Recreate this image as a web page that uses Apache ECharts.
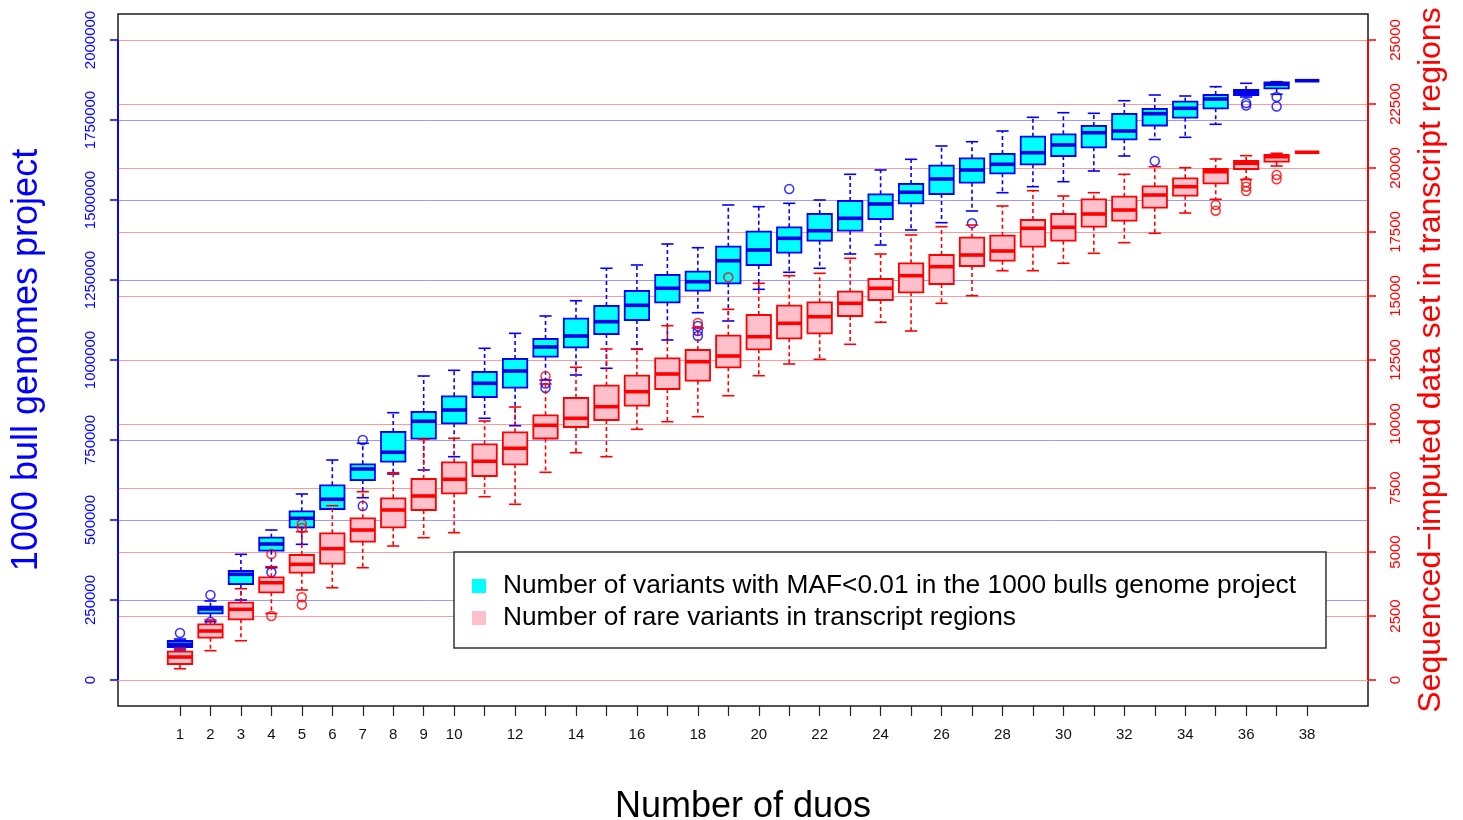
<!DOCTYPE html>
<html><head><meta charset="utf-8">
<script src="https://cdn.jsdelivr.net/npm/echarts@6/dist/echarts.min.js"></script>
<style>html,body{margin:0;padding:0;background:#fff}#c{width:1463px;height:820px}</style>
</head><body><div id="c"></div>
<script>
// ---------------- data ----------------
const duos = [1,2,3,4,5,6,7,8,9,10,11,12,13,14,15,16,17,18,19,20,21,22,23,24,25,26,27,28,29,30,31,32,33,34,35,36,37,38];
const xTickLabels = [1,2,3,4,5,6,7,8,9,10,12,14,16,18,20,22,24,26,28,30,32,34,36,38];
const leftTicks = [0,250000,500000,750000,1000000,1250000,1500000,1750000,2000000];
const rightTicks = [0,2500,5000,7500,10000,12500,15000,17500,20000,22500,25000];

// 1000 bull genomes project (MAF<0.01): whisker min, Q1, median, Q3, whisker max
const cyanMin = [93750,182200,250000,350900,424000,543750,569700,643750,656250,697800,817800,794700,937500,953100,974100,1033400,1062500,1147800,1121900,1220900,1274100,1286600,1331250,1359400,1406250,1429100,1465600,1522800,1541600,1557200,1590600,1637500,1689100,1695900,1736600,1821900,1830300,1872800];
const cyanQ1  = [103125,208400,300000,404000,477200,534400,625000,682200,754000,802200,884400,913400,1010300,1039700,1081300,1125000,1180300,1216600,1239700,1296900,1335300,1372800,1404100,1440600,1489700,1518750,1554100,1583400,1611600,1637500,1664700,1689700,1732800,1757200,1786600,1828100,1849100,1872800];
const cyanMed = [111500,221900,330300,425000,505300,564700,659400,711600,808400,843750,927200,965600,1040600,1075000,1119700,1170900,1224100,1244700,1310300,1343750,1380300,1404100,1442800,1487500,1524100,1565600,1593750,1611600,1647800,1671900,1710300,1715600,1769700,1786600,1815600,1836600,1861600,1872800];
const cyanQ3  = [121875,229000,340600,444700,527200,608400,674000,775000,837500,886600,962500,1003100,1065600,1129100,1168800,1215600,1265600,1275900,1354100,1400900,1414700,1456250,1496900,1517800,1550000,1607200,1630300,1643750,1697800,1705300,1731250,1768750,1784400,1807200,1828100,1843750,1867800,1872800];
const cyanMax = [128000,246900,392800,468750,581250,687500,739700,835300,950000,967800,1036600,1083400,1137500,1185300,1286600,1296900,1362500,1350900,1484400,1479100,1489700,1500000,1580300,1593750,1627200,1668750,1682200,1715600,1758400,1772800,1770900,1810300,1828100,1825000,1854100,1864700,1869700,1872800];
const cyanOutliers = [[1,146900],[2,265600],[2,181000],[4,336600],[7,750000],[7,543750],[13,926600],[13,912500],[18,1106250],[18,1090600],[18,1075000],[21,1534400],[27,1427200],[33,1621900],[36,1803100],[36,1795300],[37,1821900],[37,1792200]];

// Sequenced-imputed data set in transcript regions (rare variants)
const redMin = [441,1145,1535,2598,3516,3605,4387,5234,5559,5754,7160,6863,8113,8879,8723,9793,10090,10286,11105,11887,12344,12527,13113,13973,13633,14715,15012,15988,15988,16277,16668,17082,17449,18242,18777,19550,20078,20613];
const redQ1  = [625,1652,2371,3426,4191,4543,5402,5965,6641,7293,7969,8426,9434,9883,10156,10715,11367,11691,12215,12918,13348,13543,14219,14844,15145,15469,16172,16379,16926,17160,17707,17941,18449,18918,19402,19961,20246,20613];
const redMed = [898,1914,2762,3801,4519,5129,5859,6641,7188,7840,8543,9051,9949,10223,10676,11262,11953,12434,12656,13410,13934,14191,14715,15301,15793,16145,16602,16758,17645,17684,18203,18359,18945,19270,19856,20184,20441,20613];
const redQ3  = [1105,2176,3020,4012,4883,5730,6316,7098,7852,8504,9207,9676,10340,11016,11496,11887,12566,12891,13449,14258,14621,14754,15168,15664,16277,16602,17277,17355,17969,18203,18777,18879,19285,19598,19961,20273,20508,20613];
const redMax = [1238,2344,3566,4426,5793,6809,7355,8098,9402,9441,10117,10664,11563,12215,12930,12930,13840,13750,14480,15496,15793,15887,16473,16641,17383,17707,17773,18516,19113,18906,19035,19754,20051,20012,20352,20481,20574,20613];
const redOutliers = [[4,4922],[4,2500],[5,6094],[5,5938],[5,3230],[5,2941],[13,11875],[18,13945],[19,15730],[35,18555],[35,18332],[36,19440],[36,19270],[36,19100],[37,19727],[37,19559]];

// ---------------- chart ----------------
const X_MIN = -1.035, X_MAX = 40.0;
const L_MIN = -81250, L_MAX = 2081250;
const R_MIN = -1015.625, R_MAX = 26015.625;
const BOX_W = 0.8;
const FONT = "'Liberation Sans', Arial, sans-serif";

function boxRenderer(fill, line, med) {
  return function (params, api) {
    const x = api.value(0);
    const pMin = api.coord([x, api.value(1)]);
    const pQ1 = api.coord([x, api.value(2)]);
    const pMed = api.coord([x, api.value(3)]);
    const pQ3 = api.coord([x, api.value(4)]);
    const pMax = api.coord([x, api.value(5)]);
    const w = api.size([BOX_W, 0])[0];
    const cx = pMed[0], hw = w / 2, cw = w / 4;
    const dashed = {stroke: line, lineWidth: 1.6, lineDash: [4, 3]};
    const solid = {stroke: line, lineWidth: 1.6};
    return {type: 'group', children: [
      {type: 'line', shape: {x1: cx, y1: pQ3[1], x2: cx, y2: pMax[1]}, style: dashed},
      {type: 'line', shape: {x1: cx, y1: pQ1[1], x2: cx, y2: pMin[1]}, style: dashed},
      {type: 'line', shape: {x1: cx - cw, y1: pMax[1], x2: cx + cw, y2: pMax[1]}, style: solid},
      {type: 'line', shape: {x1: cx - cw, y1: pMin[1], x2: cx + cw, y2: pMin[1]}, style: solid},
      {type: 'rect', shape: {x: cx - hw, y: pQ3[1], width: w, height: pQ1[1] - pQ3[1]}, style: {fill: fill, stroke: line, lineWidth: 1.8}},
      {type: 'line', shape: {x1: cx - hw, y1: pMed[1], x2: cx + hw, y2: pMed[1]}, style: {stroke: med, lineWidth: 3.6}}
    ]};
  };
}

const cyanData = duos.map((d, i) => [d, cyanMin[i], cyanQ1[i], cyanMed[i], cyanQ3[i], cyanMax[i]]);
const redData = duos.map((d, i) => [d, redMin[i], redQ1[i], redMed[i], redQ3[i], redMax[i]]);

const NAME_CYAN = 'Number of variants with MAF<0.01 in the 1000 bulls genome project';
const NAME_RED = 'Number of rare variants in transcript regions';
const plain = v => String(v);

const chart = echarts.init(document.getElementById('c'), null, {renderer: 'canvas'});
chart.setOption({
  animation: false,
  backgroundColor: '#ffffff',
  textStyle: {fontFamily: FONT},
  grid: {left: 118, right: 95, top: 14, bottom: 114, outerBoundsMode: 'none', containLabel: false,
    show: true, borderColor: '#1a1a1a', borderWidth: 1.5, backgroundColor: 'transparent'},
  legend: {
    data: [NAME_CYAN, NAME_RED],
    orient: 'vertical', left: 454, top: 552, z: 50, zlevel: 0,
    padding: [18, 30, 14, 18],
    borderColor: '#333', borderWidth: 1.5, backgroundColor: '#fff',
    itemWidth: 14, itemHeight: 14, itemGap: 0, icon: 'rect',
    selectedMode: false,
    textStyle: {fontSize: 26.3, color: '#000', fontFamily: FONT, lineHeight: 32, padding: [0, 0, 0, 12]}
  },
  xAxis: {
    type: 'value', min: X_MIN, max: X_MAX,
    name: 'Number of duos', nameLocation: 'middle', nameGap: 83,
    nameTextStyle: {fontSize: 36, color: '#000', fontFamily: FONT},
    axisLine: {show: false, onZero: false},
    axisTick: {show: true, customValues: duos, length: 10, lineStyle: {color: '#222', width: 1.2}},
    axisLabel: {customValues: xTickLabels, formatter: plain, fontSize: 15, color: '#111', margin: 21, fontFamily: FONT},
    splitLine: {show: false}
  },
  yAxis: [{
    type: 'value', min: L_MIN, max: L_MAX, position: 'left',
    name: '1000 bull genomes project', nameLocation: 'middle', nameGap: 73,
    nameTextStyle: {fontSize: 36, color: '#0000FF', fontFamily: FONT},
    axisLine: {show: false, onZero: false},
    axisTick: {show: true, customValues: leftTicks, length: 8, lineStyle: {color: '#0000FF', width: 1.5}},
    axisLabel: {customValues: leftTicks, formatter: plain, rotate: 90, fontSize: 15, color: '#0000FF', margin: 20, fontFamily: FONT},
    splitLine: {show: false}
  }, {
    type: 'value', min: R_MIN, max: R_MAX, position: 'right',
    name: 'Sequenced\u2212imputed data set in transcript regions', nameLocation: 'middle', nameGap: 47,
    nameTextStyle: {fontSize: 32, color: '#FF0000', fontFamily: FONT},
    axisLine: {show: false, onZero: false},
    axisTick: {show: true, customValues: rightTicks, length: 8, lineStyle: {color: '#FF0000', width: 1.5}},
    axisLabel: {customValues: rightTicks, formatter: plain, rotate: 90, fontSize: 15, color: '#FF0000', margin: 20, fontFamily: FONT},
    splitLine: {show: false}
  }],
  series: [
    {
      type: 'scatter', name: 'gridL', data: [], xAxisIndex: 0, yAxisIndex: 0, z: 1, silent: true,
      markLine: {silent: true, symbol: ['none', 'none'], label: {show: false}, animation: false, z: 1,
        lineStyle: {color: '#9a9aff', width: 1, type: 'solid'},
        data: leftTicks.map(v => ({yAxis: v}))}
    },
    {
      type: 'scatter', name: 'gridR', data: [], xAxisIndex: 0, yAxisIndex: 1, z: 1, silent: true,
      markLine: {silent: true, symbol: ['none', 'none'], label: {show: false}, animation: false, z: 1,
        lineStyle: {color: '#ff9a9a', width: 1, type: 'solid'},
        data: rightTicks.map(v => ({yAxis: v}))}
    },
    {
      type: 'custom', name: NAME_CYAN, xAxisIndex: 0, yAxisIndex: 0, z: 3,
      itemStyle: {color: '#00FFFF'},
      dimensions: ['duo', 'min', 'q1', 'median', 'q3', 'max'],
      encode: {x: 0, y: [1, 2, 3, 4, 5]},
      renderItem: boxRenderer('#00FFFF', '#0000FF', '#0000E0'),
      data: cyanData
    },
    {
      type: 'scatter', name: 'cyanOut', xAxisIndex: 0, yAxisIndex: 0, z: 4,
      symbol: 'circle', symbolSize: 9,
      itemStyle: {color: 'rgba(0,0,0,0)', borderColor: '#0000FF', borderWidth: 1.5},
      data: cyanOutliers
    },
    {
      type: 'custom', name: NAME_RED, xAxisIndex: 0, yAxisIndex: 1, z: 5,
      itemStyle: {color: '#FFC0CB'},
      dimensions: ['duo', 'min', 'q1', 'median', 'q3', 'max'],
      encode: {x: 0, y: [1, 2, 3, 4, 5]},
      renderItem: boxRenderer('#FFC0CB', '#FF0000', '#FF0000'),
      data: redData
    },
    {
      type: 'scatter', name: 'redOut', xAxisIndex: 0, yAxisIndex: 1, z: 6,
      symbol: 'circle', symbolSize: 9,
      itemStyle: {color: 'rgba(0,0,0,0)', borderColor: '#FF0000', borderWidth: 1.5},
      data: redOutliers
    }
  ]
});

// axis lines spanning only the labelled range (R style), placed through the library scales
const xl = chart.convertToPixel({xAxisIndex: 0}, X_MIN);
const xr = chart.convertToPixel({xAxisIndex: 0}, X_MAX);
const l0 = chart.convertToPixel({yAxisIndex: 0}, leftTicks[0]);
const l1 = chart.convertToPixel({yAxisIndex: 0}, leftTicks[leftTicks.length - 1]);
const r0 = chart.convertToPixel({yAxisIndex: 1}, rightTicks[0]);
const r1 = chart.convertToPixel({yAxisIndex: 1}, rightTicks[rightTicks.length - 1]);
chart.setOption({
  graphic: [
    {type: 'line', z: 10, shape: {x1: xl, y1: l0, x2: xl, y2: l1}, style: {stroke: '#0000FF', lineWidth: 1.8}},
    {type: 'line', z: 10, shape: {x1: xr, y1: r0, x2: xr, y2: r1}, style: {stroke: '#FF0000', lineWidth: 1.8}}
  ]
});
</script>
</body></html>
